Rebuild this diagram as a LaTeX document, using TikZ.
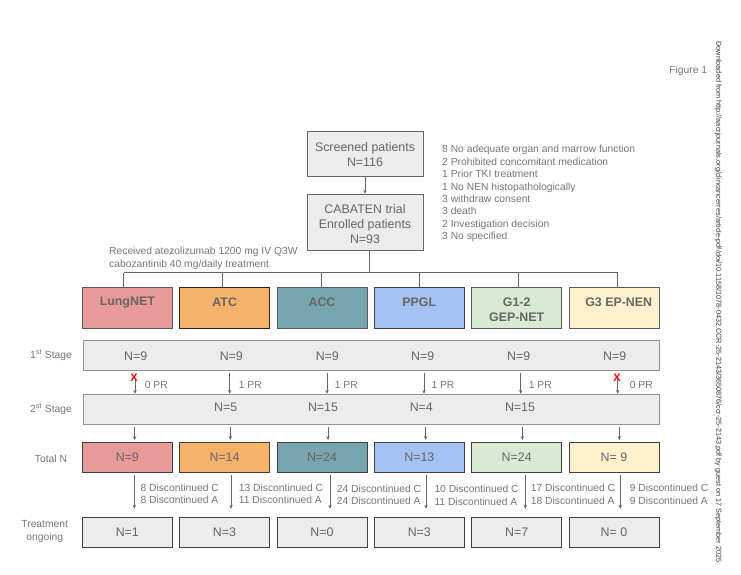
\documentclass[tikz,border=0pt]{standalone}
\usepackage{fontspec}
\setmainfont{Liberation Sans}
\usetikzlibrary{arrows.meta}
\definecolor{txtgray}{HTML}{666666}
\definecolor{lablgray}{HTML}{757575}
\definecolor{boxgray}{HTML}{ECECEC}
\definecolor{linegray}{HTML}{666666}
\definecolor{lungcol}{HTML}{EA9999}
\definecolor{atccol}{HTML}{F6B26B}
\definecolor{acccol}{HTML}{76A5AF}
\definecolor{ppglcol}{HTML}{A4C2F4}
\definecolor{gepcol}{HTML}{D9EAD3}
\definecolor{gthreecol}{HTML}{FFF2CC}
\tikzset{
	topbox/.style={draw=txtgray, fill=boxgray, line width=0.9pt, inner sep=0pt, minimum width=116pt},
	toptext/.style={text=txtgray, align=center, inner sep=0pt, font=\fontsize{12.4}{15}\selectfont},
	groupbox/.style={draw=black!65, line width=1pt, inner sep=0pt, minimum width=90pt, minimum height=40.5pt},
	grouptext/.style={text=txtgray, align=center, inner sep=0pt, font=\fontsize{12.4}{15}\selectfont\bfseries},
	stagebox/.style={draw=black!42, fill=boxgray, line width=0.9pt, inner sep=0pt, minimum width=576pt, minimum height=30pt},
	nbox/.style={draw=black!75, line width=0.9pt, text=txtgray, inner sep=0pt, minimum width=90pt, minimum height=30pt, font=\fontsize{12.4}{15}\selectfont},
	count/.style={text=txtgray, inner sep=0pt, font=\fontsize{12.4}{15}\selectfont},
	note/.style={text=lablgray, align=left, anchor=west, inner sep=0pt, font=\fontsize{10.3}{12.45}\selectfont},
	rowlabel/.style={text=lablgray, align=center, inner sep=0pt, font=\fontsize{10.3}{12.4}\selectfont},
	crossmark/.style={text=red, inner sep=0pt, font=\fontsize{11}{11}\selectfont\bfseries},
	link/.style={draw=linegray, line width=0.7pt},
	arrow/.style={draw=linegray, line width=0.7pt, -{Stealth[length=4pt,width=3.4pt]}},
}
\begin{document}
\begin{tikzpicture}[x=1pt, y=-1pt]
	\useasboundingbox (0,0) rectangle (741,574);
	% top of the flow
	\node[topbox, minimum height=45pt] (screened) at (365,154) {};
	\node[topbox, minimum height=56.5pt] (enrolled) at (365,222.5) {};
	\node[toptext] (screenedtext) at (365,154.6) {Screened patients\\N=116};
	\node[toptext] (enrolledtext) at (365,224) {CABATEN trial\\Enrolled patients\\N=93};
	\draw[arrow] (screened) -- (enrolled);
	\node[note] (excluded) at (442,193.6) {8 No adequate organ and marrow function\\2 Prohibited concomitant medication\\1 Prior TKI treatment\\1 No NEN histopathologically\\3 withdraw consent\\3 death\\2 Investigation decision\\3 No specified};
	\node[note, font=\fontsize{10.3}{13}\selectfont] (received) at (109,258) {Received atezolizumab 1200 mg IV Q3W\\cabozantinib 40 mg/daily treatment};
	% tumour groups
	\node[groupbox, fill=lungcol] (lung) at (127.3,308) {};
	\node[groupbox, fill=atccol, draw=black!85] (atc) at (224.5,308) {};
	\node[groupbox, fill=acccol] (acc) at (322,308) {};
	\node[groupbox, fill=ppglcol, draw=black!75] (ppgl) at (419.3,308) {};
	\node[groupbox, fill=gepcol] (gep) at (516.7,308) {};
	\node[groupbox, fill=gthreecol] (gthree) at (614,308) {};
	\node[grouptext] (lungtext) at (127.3,302.5) {LungNET};
	\node[grouptext] (atctext) at (224.7,302) {ATC};
	\node[grouptext] (acctext) at (322,302) {ACC};
	\node[grouptext] (ppgltext) at (419.3,302) {PPGL};
	\node[grouptext] (geptext) at (516.7,310) {G1-2\\GEP-NET};
	\node[grouptext] (gthreetext) at (618.7,302) {G3 EP-NEN};
	\coordinate (branch) at (369,272.7);
	\coordinate (lungdrop) at (123.5,272.7);
	\coordinate (atcdrop) at (222.5,272.7);
	\coordinate (accdrop) at (321,272.7);
	\coordinate (ppgldrop) at (419.7,272.7);
	\coordinate (gepdrop) at (518,272.7);
	\coordinate (gthreedrop) at (617.7,272.7);
	\draw[link] (branch |- enrolled.south) -- (branch);
	\draw[link] (lungdrop) -- (gthreedrop);
	\foreach \name in {lung,atc,acc,ppgl,gep,gthree}
		\draw[link] (\name drop) -- (\name drop |- \name.north);
	% stages
	\node[stagebox] (stageone) at (371.5,355) {};
	\node[stagebox] (stagetwo) at (371.5,409.3) {};
	\node[count] (oneA) at (135.7,356.7) {N=9};
	\node[count] (oneB) at (231.3,356.7) {N=9};
	\node[count] (oneC) at (327.3,356.7) {N=9};
	\node[count] (oneD) at (422.7,356.7) {N=9};
	\node[count] (oneE) at (518.7,356.7) {N=9};
	\node[count] (oneF) at (614.7,356.7) {N=9};
	\node[count] (twoB) at (225.7,407.7) {N=5};
	\node[count] (twoC) at (323,407.7) {N=15};
	\node[count] (twoD) at (421.3,407.7) {N=4};
	\node[count] (twoE) at (520,407.7) {N=15};
	% totals and ongoing
	\node[nbox, fill=lungcol] (lungtotal) at (127.3,457.5) {N=9};
	\node[nbox, fill=atccol] (atctotal) at (224.5,457.5) {N=14};
	\node[nbox, fill=acccol] (acctotal) at (322,457.5) {N=24};
	\node[nbox, fill=ppglcol] (ppgltotal) at (419.3,457.5) {N=13};
	\node[nbox, fill=gepcol] (geptotal) at (516.7,457.5) {N=24};
	\node[nbox, fill=gthreecol] (gthreetotal) at (614,457.5) {N= 9};
	\node[nbox, fill=boxgray] (lungon) at (127.3,532.3) {N=1};
	\node[nbox, fill=boxgray] (atcon) at (224.5,532.3) {N=3};
	\node[nbox, fill=boxgray] (accon) at (322,532.3) {N=0};
	\node[nbox, fill=boxgray] (ppglon) at (419.3,532.3) {N=3};
	\node[nbox, fill=boxgray] (gepon) at (516.7,532.3) {N=7};
	\node[nbox, fill=boxgray] (gthreeon) at (614,532.3) {N= 0};
	% arrows between the rows
	\foreach \name/\xb/\xc in {lung/134.7/134.3, atc/230.3/231, acc/328/330, ppgl/425.7/426, gep/522.3/525.3, gthree/619.3/620.3}{
		\coordinate (\name two) at (\xb,427.3);
		\coordinate (\name down) at (\xc,475);
		\draw[arrow] (\name two) -- ([yshift=2pt]\name two |- \name total.north);
		\draw[arrow] (\name down) -- ([yshift=8pt]\name down |- \name on.north);
	}
	\foreach \name/\xa/\ya in {lung/135/379, atc/229.7/373, acc/327/373, ppgl/424/373, gep/520.7/373, gthree/617.7/379}{
		\coordinate (\name stop) at (\xa,\ya);
		\draw[arrow] (\name stop) -- (\name stop |- stagetwo.north);
	}
	\node[crossmark] (lungcross) at (134,377.7) {X};
	\node[crossmark] (gthreecross) at (617,377.7) {X};
	% response and discontinuation notes
	\node[note] (prA) at (144.7,384.5) {0 PR};
	\node[note] (prB) at (238.7,384.5) {1 PR};
	\node[note] (prC) at (334.7,384.5) {1 PR};
	\node[note] (prD) at (431.3,384.5) {1 PR};
	\node[note] (prE) at (528.7,384.5) {1 PR};
	\node[note] (prF) at (629.7,384.5) {0 PR};
	\node[note] (discA) at (140.3,494) {8 Discontinued C\\8 Discontinued A};
	\node[note] (discB) at (238.7,494) {13 Discontinued C\\11 Discontinued A};
	\node[note] (discC) at (336.7,494.6) {24 Discontinued C\\24 Discontinued A};
	\node[note] (discD) at (434.3,495.2) {10 Discontinued C\\11 Discontinued A};
	\node[note] (discE) at (530.7,494.4) {17 Discontinued C\\18 Discontinued A};
	\node[note] (discF) at (629.7,494.4) {9 Discontinued C\\9 Discontinued A};
	% row labels
	\node[rowlabel] (stageonelabel) at (51,355) {1\textsuperscript{st} Stage};
	\node[rowlabel] (stagetwolabel) at (51,409) {2\textsuperscript{st} Stage};
	\node[rowlabel] (totallabel) at (51,459) {Total N};
	\node[rowlabel] (ongoinglabel) at (44.7,531.5) {Treatment\\ongoing};
	\node[rowlabel] (figurelabel) at (688.3,71.2) {Figure 1};
	\node[text=black!80, rotate=-90, inner sep=0pt, font=\fontsize{7.28}{8}\selectfont] (download) at (718.3,302) {Downloaded from http://aacrjournals.org/clincancerres/article-pdf/doi/10.1158/1078-0432.CCR-25-2143/3650876/ccr-25-2143.pdf by guest on 17 September 2025};
\end{tikzpicture}
\end{document}
